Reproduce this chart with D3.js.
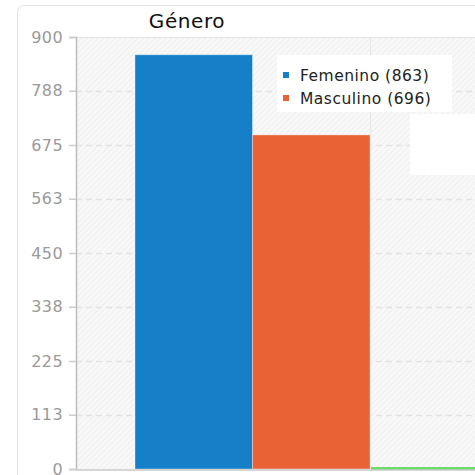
<!DOCTYPE html>
<html><head><meta charset="utf-8">
<script src="https://cdn.jsdelivr.net/npm/d3@7"></script>
<style>html,body{margin:0;padding:0;background:#fff;}svg{display:block;font-family:"DejaVu Sans",sans-serif;}</style>
</head><body>
<svg id="c" width="475" height="475"></svg>
<script>
const title = "Género";
const categories = ["Género"];
const seriesNames = ["Femenino", "Masculino", "Otro"];
const seriesValues = [863, 696, 0];
const seriesColors = ["#1580c8", "#e86236", "#6ade6a"];
const legendSeries = [0, 1];
const yTicks = [0, 113, 225, 338, 450, 563, 675, 788, 900];
const slotCount = 4;

const svg = d3.select("#c");
const W = 475, H = 475;
const m = {left: 76, top: 37, right: 664, bottom: 469};

const defs = svg.append("defs");
const pat = defs.append("pattern").attr("id","hatch").attr("patternUnits","userSpaceOnUse")
  .attr("width",4).attr("height",4).attr("patternTransform","rotate(45)");
pat.append("rect").attr("width",4).attr("height",4).attr("fill","#f8f8f8");
pat.append("line").attr("x1",0).attr("y1",0).attr("x2",0).attr("y2",4).attr("stroke","#ececec").attr("stroke-width",1.4);

// panel
svg.append("rect").attr("x",17.5).attr("y",5.5).attr("width",500).attr("height",500).attr("rx",6)
  .attr("fill","#fff").attr("stroke","#e4e4e4");

const y = d3.scaleLinear().domain([0, 900]).range([m.bottom, m.top]);
const x0 = d3.scaleBand().domain(categories).range([m.left, m.right]).paddingOuter(0.1255).paddingInner(0);
const x1 = d3.scaleBand().domain(d3.range(slotCount)).range([0, x0.bandwidth()]);

// plot background
svg.append("rect").attr("x",m.left).attr("y",m.top).attr("width",W-m.left).attr("height",m.bottom-m.top)
  .attr("fill","url(#hatch)");
svg.append("line").attr("x1",m.left).attr("x2",W).attr("y1",m.top+0.5).attr("y2",m.top+0.5).attr("stroke","#e2e2e2");

// horizontal grid
svg.append("g").selectAll("line").data(yTicks.filter(t=>t>0 && t<900)).join("line")
  .attr("x1",m.left).attr("x2",W).attr("y1",d=>Math.round(y(d))+0.5).attr("y2",d=>Math.round(y(d))+0.5)
  .attr("stroke","#e3e3e3").attr("stroke-width",1.5).attr("stroke-dasharray","6,4");

// vertical category grid
svg.append("g").selectAll("line").data(categories).join("line")
  .attr("x1",d=>x0(d)+x0.bandwidth()/2+0.5).attr("x2",d=>x0(d)+x0.bandwidth()/2+0.5)
  .attr("y1",m.top).attr("y2",m.bottom).attr("stroke","#e6e6e6");

// bars
const g = svg.append("g");
categories.forEach(cat => {
  seriesValues.forEach((v, i) => {
    const bx = x0(cat) + x1(i);
    const by = y(v);
    if (v > 0) {
      g.append("rect").attr("x",bx).attr("y",by).attr("width",x1.bandwidth()).attr("height",y(0)-by)
        .attr("fill",seriesColors[i]).attr("stroke","rgba(255,255,255,0.35)").attr("stroke-width",1);
    } else {
      g.append("rect").attr("x",bx+1).attr("y",y(0)-2).attr("width",x1.bandwidth()).attr("height",3)
        .attr("fill",seriesColors[i]);
    }
  });
});

// y axis
const yAxis = d3.axisLeft(y).tickValues(yTicks).tickSize(7).tickPadding(6);
const ya = svg.append("g").attr("transform",`translate(${m.left},0)`).call(yAxis);
ya.select(".domain").attr("stroke","#bdbdbd").attr("stroke-width",1.5);
ya.selectAll(".tick line").attr("stroke","#cccccc").attr("stroke-width",1.5);
ya.selectAll(".tick text").attr("fill","#9a9a9a").attr("font-size",16).attr("letter-spacing",0.4)
  .attr("font-family","DejaVu Sans, sans-serif");

// x axis line
svg.append("line").attr("x1",m.left).attr("x2",W).attr("y1",m.bottom+1).attr("y2",m.bottom+1).attr("stroke","#c8c8c8").attr("stroke-width",1.5);

// title
svg.append("text").attr("x",187).attr("y",28).attr("text-anchor","middle").attr("font-size",20)
  .attr("letter-spacing",0.6).attr("fill","#111").text(title);

// legend
const lg = svg.append("g");
lg.append("rect").attr("x",277).attr("y",55).attr("width",175).attr("height",57).attr("fill","#fff");
legendSeries.forEach((si, k) => {
  const ly = 76 + k*23;
  lg.append("rect").attr("x",283).attr("y",ly-4).attr("width",6).attr("height",6).attr("fill",seriesColors[si]);
  lg.append("text").attr("x",300).attr("y",ly+5).attr("font-size",15.5).attr("letter-spacing",0.5).attr("fill","#222")
    .text(`${seriesNames[si]} (${seriesValues[si]})`);
});
// white box
svg.append("rect").attr("x",410).attr("y",114).attr("width",70).attr("height",61).attr("fill","#fff");
</script>
</body></html>
